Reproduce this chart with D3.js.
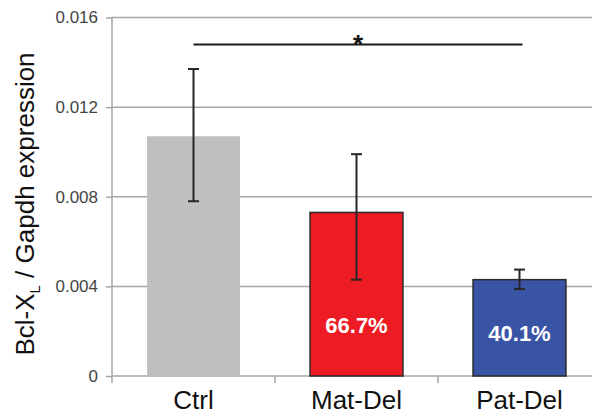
<!DOCTYPE html>
<html lang="en">
<head>
<meta charset="UTF-8">
<title>Bcl-XL expression</title>
<script src="https://d3js.org/d3.v7.min.js"></script>
<style>
    body { margin: 0; padding: 0; background: #fff; font-family: "Liberation Sans", Arial, sans-serif; }
    .grid line { stroke: #a6a6a6; stroke-width: 1.5px; }
    .axis path, .axis line { stroke: #a6a6a6; stroke-width: 1.5px; }
    .err { stroke: #262626; stroke-width: 2px; }
</style>
</head>
<body>
<div id="chart"></div>
<script>
    const categories = ["Ctrl", "Mat-Del", "Pat-Del"];
    const means = [0.0107, 0.0073, 0.0043];
    const errUpper = [0.0137, 0.0099, 0.00475];
    const errLower = [0.0078, 0.0043, 0.00388];
    const barColors = ["#bfbfbf", "#ed1c24", "#3953a5"];
    const barLabels = ["", "66.7%", "40.1%"];
    const yTicks = [0, 0.004, 0.008, 0.012, 0.016];
    const yTickLabels = ["0", "0.004", "0.008", "0.012", "0.016"];
    const sigLevel = 0.0148;  // bracket height, Ctrl vs Pat-Del

    const W = 592, H = 416;
    const svg = d3.select("#chart").append("svg")
        .attr("width", W).attr("height", H);

    const x = d3.scaleBand()
        .domain(categories)
        .range([112, 601])
        .paddingInner(0.43)
        .paddingOuter(0.215);
    const step = x.step();
    const x0 = x.range()[0];

    const y = d3.scaleLinear().domain([0, 0.016]).range([376, 17.5]);

    // gridlines
    svg.append("g").attr("class", "grid")
        .selectAll("line").data(yTicks.slice(1)).enter().append("line")
        .attr("x1", x0).attr("x2", W)
        .attr("y1", d => y(d)).attr("y2", d => y(d));

    // y axis
    const yAxis = d3.axisLeft(y).tickValues(yTicks)
        .tickFormat((d, i) => yTickLabels[i]).tickSize(6).tickPadding(8);
    const gy = svg.append("g").attr("class", "axis")
        .attr("transform", `translate(${x0},0)`).call(yAxis);
    gy.select(".domain").attr("d", `M0,${y(0.016)}V${y(0)}`);
    gy.selectAll("text")
        .style("font-size", "17px").style("fill", "#444")
        .style("font-family", "'Liberation Sans', Arial, sans-serif");

    // x axis baseline with ticks at band edges
    const gx = svg.append("g").attr("class", "axis");
    gx.append("line").attr("x1", x0).attr("x2", W)
        .attr("y1", y(0)).attr("y2", y(0));
    gx.selectAll(".xt").data(d3.range(categories.length + 1)).enter().append("line")
        .attr("x1", i => x0 + i * step).attr("x2", i => x0 + i * step)
        .attr("y1", y(0)).attr("y2", y(0) + 7);
    svg.selectAll(".xlab").data(categories).enter().append("text")
        .attr("x", d => x(d) + x.bandwidth() / 2)
        .attr("y", 409)
        .attr("text-anchor", "middle")
        .style("font-size", "26px").style("fill", "#111")
        .text(d => d);

    // bars
    svg.selectAll(".bar").data(categories).enter().append("rect")
        .attr("x", d => x(d))
        .attr("width", x.bandwidth())
        .attr("y", (d, i) => y(means[i]))
        .attr("height", (d, i) => y(0) - y(means[i]))
        .attr("fill", (d, i) => barColors[i])
        .attr("stroke", (d, i) => i === 0 ? "none" : "#2a2a2a")
        .attr("stroke-width", 1.5);

    // error bars
    const cap = 5.5;
    categories.forEach((c, i) => {
        const cx = x(c) + x.bandwidth() / 2;
        const g = svg.append("g").attr("class", "err");
        g.append("line").attr("x1", cx).attr("x2", cx)
            .attr("y1", y(errUpper[i])).attr("y2", y(errLower[i]));
        g.append("line").attr("x1", cx - cap).attr("x2", cx + cap)
            .attr("y1", y(errUpper[i])).attr("y2", y(errUpper[i]));
        g.append("line").attr("x1", cx - cap).attr("x2", cx + cap)
            .attr("y1", y(errLower[i])).attr("y2", y(errLower[i]));
    });

    // percentage labels inside bars
    const labelAt = [0, 0.00228, 0.0019];
    svg.selectAll(".pct").data(categories).enter().append("text")
        .attr("x", d => x(d) + x.bandwidth() / 2)
        .attr("y", (d, i) => y(labelAt[i]))
        .attr("dy", "0.36em")
        .attr("text-anchor", "middle")
        .style("font-size", "22px").style("font-weight", "bold").style("fill", "#fff")
        .text((d, i) => barLabels[i]);

    // significance bracket
    const xa = x(categories[0]) + x.bandwidth() / 2;
    const xb = x(categories[2]) + x.bandwidth() / 2 + 3;
    svg.append("line").attr("x1", xa).attr("x2", xb)
        .attr("y1", y(sigLevel)).attr("y2", y(sigLevel))
        .attr("stroke", "#1a1a1a").attr("stroke-width", 2);
    svg.append("text").attr("x", (xa + xb) / 2).attr("y", y(sigLevel) + 9)
        .attr("text-anchor", "middle")
        .style("font-size", "26px").style("font-weight", "bold").style("fill", "#111")
        .text("*");

    // y title
    const title = svg.append("text")
        .attr("transform", "translate(34,204) rotate(-90)")
        .attr("text-anchor", "middle")
        .style("font-size", "26px").style("fill", "#111");
    title.append("tspan").text("Bcl-X");
    title.append("tspan").attr("dy", 6).style("font-size", "15px").text("L");
    title.append("tspan").attr("dy", -6).text(" / Gapdh expression");
</script>
</body>
</html>
